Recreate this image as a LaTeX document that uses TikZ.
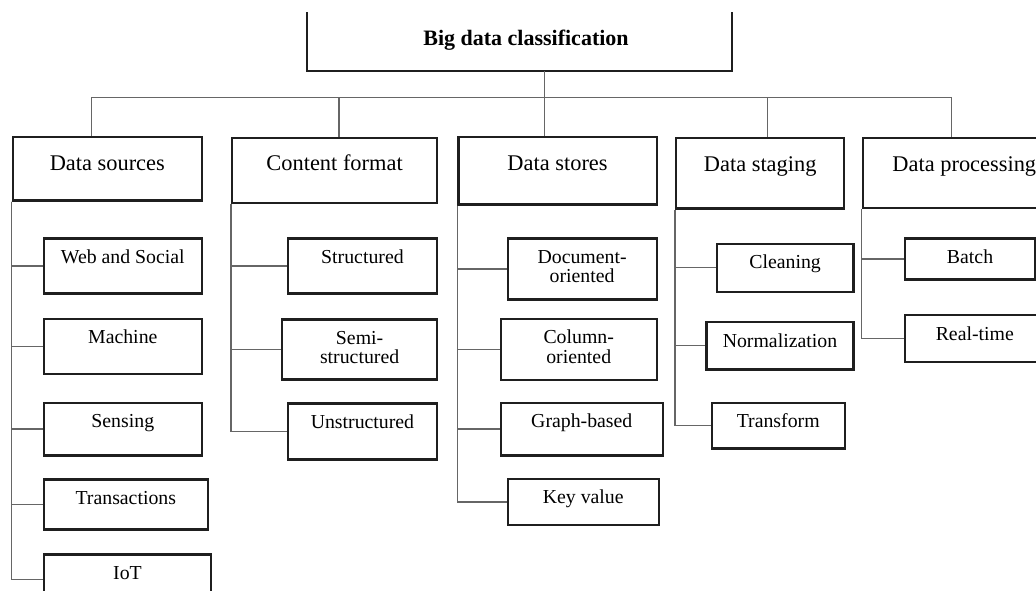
\documentclass[tikz,border=0pt]{standalone}
\usepackage{fontspec}
\setmainfont{Liberation Serif}

\tikzset{
  framed/.style={draw=black!88, line width=2.2pt},
  link/.style={draw=black!60, line width=1.3pt},
  headbox/.style={framed, anchor=north west, inner sep=0pt, align=center,
    font=\fontsize{22.4}{26}\selectfont, text height=33pt},
  leafbox/.style={framed, anchor=north west, inner sep=0pt, align=center,
    font=\fontsize{19.8}{19.5}\selectfont},
  roottext/.style={anchor=base, inner sep=0pt, font=\bfseries\fontsize{22}{26}\selectfont},
}

\begin{document}
\begin{tikzpicture}[x=1pt,y=-1pt]

        % Page frame (1036 x 591), boxes running off the edge get cut
        \useasboundingbox (0,0) rectangle (1036,591);
        \clip (0,0) rectangle (1036,591);

        % Root box, open at the top
        \node[minimum width=424.2pt, minimum height=58.4pt, inner sep=0pt, anchor=north west] (rootbox) at (307.3,12.3) {};
        \draw[framed] (rootbox.north west) -- (rootbox.south west) -- (rootbox.south east) -- (rootbox.north east);
        \node[roottext] (root) at (526,46) {Big data classification};

        % Category boxes: name/x/y/width/height/label
        \foreach \nm/\px/\py/\w/\h/\lbl in {
            src/11.7/136/189/63.3/{Data sources},
            fmt/231/136.7/205/65/{Content format},
            sto/457.3/136/198.3/67.3/{Data stores},
            stg/675/137/168.2/70.3/{Data staging},
            prc/861.7/137/203/70/{Data processing}} {
            \pgfmathsetmacro{\dep}{\h-33}
            \node[headbox, minimum width=\w pt, text depth=\dep pt] (\nm) at (\px,\py) {\lbl};
        }

        % Leaf boxes: name/x/y/width/height/lines/label
        \foreach \nm/\px/\py/\w/\h/\nl/\lbl in {
            web/42.7/237.3/158/55/1/{Web and Social},
            mach/42.7/317.7/158/55/1/{Machine},
            sens/42.7/401.7/158/52.6/1/{Sensing},
            trans/42.7/478.3/164/50/1/{Transactions},
            iot/42.7/553.3/167.3/50/1/{IoT},
            strc/286.7/237.3/149.3/55/1/{Structured},
            semi/281/318.3/155/60/2/{Semi-\\structured},
            unst/286.7/402.3/149.3/56/1/{Unstructured},
            doc/506.5/237.3/149/61/2/{Document-\\oriented},
            col/499.7/317.7/155.8/61.3/2/{Column-\\oriented},
            graph/499.7/401.7/162/52.6/1/{Graph-based},
            kv/506.5/477.7/151.3/46.3/1/{Key value},
            clean/715.6/242.7/136.8/48/1/{Cleaning},
            norm/705.3/321/147.1/47.3/1/{Normalization},
            trf/710.6/401.7/133/45.6/1/{Transform},
            batch/903.7/237.3/130.5/41/1/{Batch},
            rt/903.7/314/140/47/1/{Real-time}} {
            % baseline of the last line sits 25pt + 19.5pt per extra line below the top
            \pgfmathsetmacro{\hgt}{25+19.5*(\nl-1)}
            \pgfmathsetmacro{\dep}{\h-\hgt}
            \node[leafbox, minimum width=\w pt, text height=\hgt pt, text depth=\dep pt] (\nm) at (\px,\py) {\lbl};
        }

        % Tap points where the drops leave the bus
        \coordinate (bus) at (0,97.7);
        \coordinate (root-tap) at ([xshift=25.1pt]rootbox.south);
        \foreach \hd/\dx in {src/-16, fmt/4.5, sto/-13, stg/7.6, prc/-12.6}
            \coordinate (\hd-tap) at ([xshift=\dx pt]\hd.north);

        % Bus with the two outer drops, then the inner drops
        \draw[link] (src-tap) |- (prc-tap |- bus) -- (prc-tap);
        \foreach \hd in {root, fmt, sto, stg}
            \draw[link] (\hd-tap) -- (\hd-tap |- bus);

        % Trunks down the left edge of each category, branching to its leaves
        \foreach \p/\c in {src/web, src/mach, src/sens, src/trans, src/iot,
                           fmt/strc, fmt/semi, fmt/unst,
                           sto/doc, sto/col, sto/graph, sto/kv,
                           stg/clean, stg/norm, stg/trf,
                           prc/batch, prc/rt}
            \draw[link] (\p.south west) |- (\c.west);

\end{tikzpicture}
\end{document}
